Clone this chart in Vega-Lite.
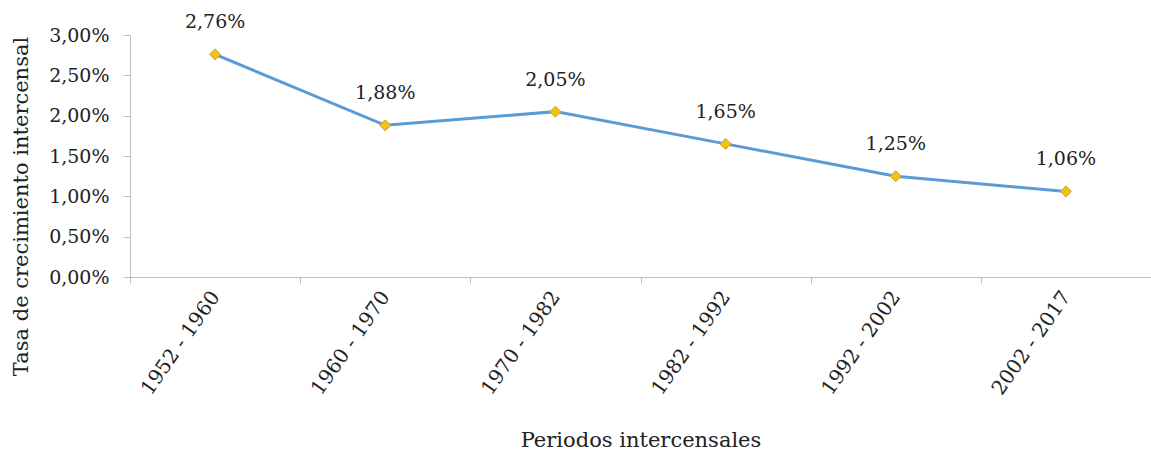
{
  "$schema": "https://vega.github.io/schema/vega-lite/v6.json",
  "width": 1021,
  "height": 242,
  "autosize": {"type": "none"},
  "padding": {"left": 130, "top": 35, "right": 0, "bottom": 176},
  "background": "white",
  "config": {
    "locale": {"number": {"decimal": ",", "thousands": ".", "grouping": [3], "currency": ["", " €"]}},
    "view": {"stroke": null},
    "font": "DejaVu Serif",
    "axis": {"grid": false, "domainColor": "#BFBFBF", "tickColor": "#BFBFBF", "labelFont": "DejaVu Serif", "titleFont": "DejaVu Serif", "labelColor": "#222", "titleColor": "#222", "labelFontSize": 19, "titleFontSize": 21, "titleFontWeight": "normal"}
  },
  "data": {"values": [
    {"periodo": "1952 - 1960", "tasa": 0.0276},
    {"periodo": "1960 - 1970", "tasa": 0.0188},
    {"periodo": "1970 - 1982", "tasa": 0.0205},
    {"periodo": "1982 - 1992", "tasa": 0.0165},
    {"periodo": "1992 - 2002", "tasa": 0.0125},
    {"periodo": "2002 - 2017", "tasa": 0.0106}
  ]},
  "encoding": {
    "x": {"field": "periodo", "type": "nominal", "sort": null, "bandPosition": 0.5,
      "scale": {"type": "band", "paddingInner": 0, "paddingOuter": 0},
      "axis": {"title": "Periodos intercensales", "labelAngle": -55, "labelAlign": "right", "labelBaseline": "middle", "labelPadding": 10, "labelFontSize": 20, "tickBand": "extent", "tickSize": 6, "titleY": 163, "titleBaseline": "middle"}},
    "y": {"field": "tasa", "type": "quantitative",
      "scale": {"domain": [0, 0.03]},
      "axis": {"title": "Tasa de crecimiento intercensal", "format": ".2%", "values": [0, 0.005, 0.01, 0.015, 0.02, 0.025, 0.03], "tickSize": 7, "labelPadding": 14, "titleX": -109, "titleY": 171, "titleAngle": -90, "titleBaseline": "middle", "titleAlign": "center"}}
  },
  "layer": [
    {"mark": {"type": "line", "color": "#5B9BD5", "strokeWidth": 3}},
    {"mark": {"type": "point", "shape": "diamond", "filled": true, "size": 120, "fill": "#F2C314", "stroke": "#C9A227", "strokeWidth": 1, "opacity": 1}},
    {"mark": {"type": "text", "fontSize": 19, "baseline": "middle", "dy": -32, "color": "#222"},
      "encoding": {"text": {"field": "tasa", "type": "quantitative", "format": ".2%"}}}
  ]
}
